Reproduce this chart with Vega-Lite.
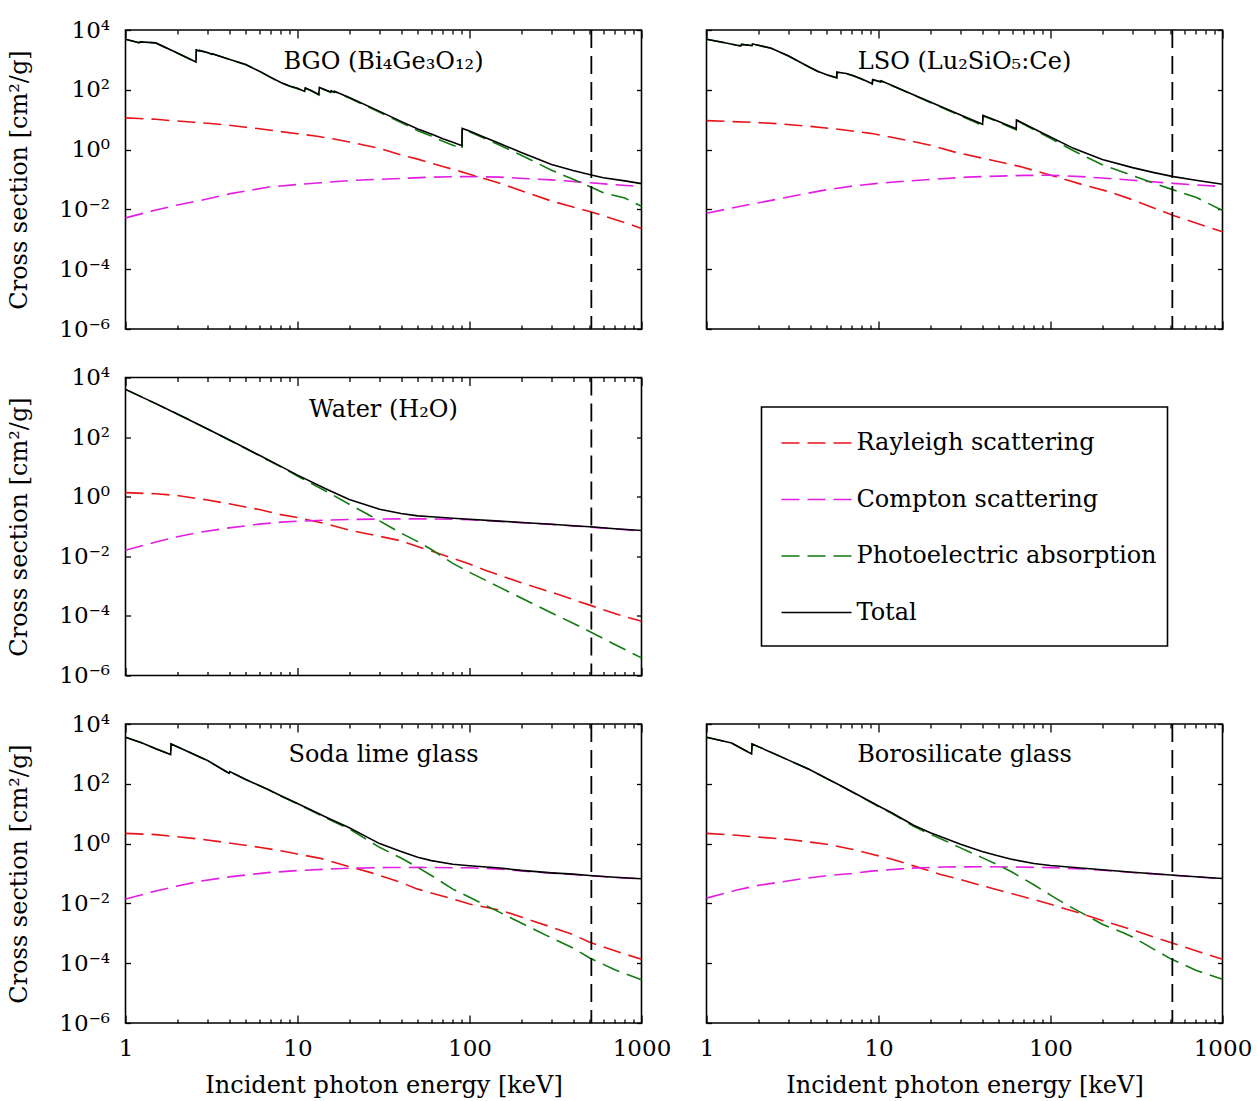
{
"$schema": "https://vega.github.io/schema/vega-lite/v6.json",
"padding": {"left": 6.5, "top": 18, "right": 5, "bottom": 5},
"config": {
  "font": "DejaVu Serif",
  "view": {"stroke": "black", "strokeWidth": 1.6},
  "axis": {"domain": false, "grid": false, "tickColor": "black", "tickWidth": 1.3, "labelColor": "black", "titleColor": "black", "labelFont": "DejaVu Serif", "titleFont": "DejaVu Serif", "titleFontWeight": "normal", "labelFlush": false, "labelOverlap": false, "labelBound": false},
  "title": {"font": "DejaVu Serif", "fontSize": 24, "fontWeight": "normal", "color": "black", "anchor": "middle", "frame": "group", "baseline": "alphabetic"}
},
"datasets": {
  "annihilation": [{"e": 511}],
  "legend": [{"process": "Rayleigh scattering"}, {"process": "Compton scattering"}, {"process": "Photoelectric absorption"}, {"process": "Total"}],
  "bgo_total": [{"e":1,"v":4900},{"e":1.2,"v":3750},{"e":1.22,"v":4000},{"e":1.5,"v":3700},{"e":2,"v":1700},{"e":2.5,"v":920},{"e":2.57,"v":850},{"e":2.58,"v":2150},{"e":2.68,"v":2000},{"e":2.69,"v":2080},{"e":3,"v":1750},{"e":3.18,"v":1550},{"e":3.19,"v":1620},{"e":4,"v":1050},{"e":5,"v":700},{"e":6,"v":420},{"e":7,"v":260},{"e":8,"v":175},{"e":9,"v":135},{"e":10,"v":112},{"e":11,"v":88},{"e":11.1,"v":115},{"e":12,"v":95},{"e":13.3,"v":70},{"e":13.4,"v":120},{"e":15.6,"v":84},{"e":15.7,"v":93},{"e":16.3,"v":84},{"e":16.4,"v":89},{"e":20,"v":55},{"e":30,"v":19},{"e":40,"v":8.8},{"e":50,"v":4.9},{"e":60,"v":3.3},{"e":70,"v":2.3},{"e":80,"v":1.75},{"e":90.4,"v":1.35},{"e":90.6,"v":5.1},{"e":100,"v":4.2},{"e":120,"v":2.7},{"e":150,"v":1.6},{"e":200,"v":0.8},{"e":300,"v":0.32},{"e":400,"v":0.2},{"e":511,"v":0.141},{"e":600,"v":0.115},{"e":800,"v":0.09},{"e":1000,"v":0.073}],
  "bgo_rayleigh": [{"e":1,"v":11.5},{"e":1.2,"v":11},{"e":1.5,"v":10.3},{"e":2,"v":9},{"e":2.5,"v":8.2},{"e":3,"v":7.6},{"e":4,"v":6.5},{"e":5,"v":5.6},{"e":6,"v":5.0},{"e":8,"v":4.0},{"e":10,"v":3.4},{"e":13,"v":2.8},{"e":16,"v":2.3},{"e":20,"v":1.8},{"e":30,"v":1.1},{"e":40,"v":0.66},{"e":50,"v":0.48},{"e":60,"v":0.35},{"e":70,"v":0.27},{"e":80,"v":0.22},{"e":90,"v":0.18},{"e":100,"v":0.15},{"e":120,"v":0.11},{"e":150,"v":0.075},{"e":200,"v":0.042},{"e":300,"v":0.019},{"e":400,"v":0.012},{"e":511,"v":0.0082},{"e":600,"v":0.0061},{"e":800,"v":0.0036},{"e":1000,"v":0.0023}],
  "bgo_compton": [{"e":1,"v":0.0052},{"e":1.5,"v":0.0095},{"e":2,"v":0.014},{"e":2.74,"v":0.02},{"e":4,"v":0.033},{"e":6.7,"v":0.055},{"e":10,"v":0.068},{"e":13.6,"v":0.078},{"e":20,"v":0.092},{"e":41.5,"v":0.11},{"e":60,"v":0.12},{"e":93,"v":0.126},{"e":150,"v":0.12},{"e":195,"v":0.11},{"e":300,"v":0.097},{"e":505,"v":0.078},{"e":700,"v":0.067},{"e":1000,"v":0.058}],
  "bgo_photo": [{"e":1,"v":4890},{"e":1.2,"v":3739},{"e":1.22,"v":3989},{"e":1.5,"v":3690},{"e":2,"v":1691},{"e":2.5,"v":912},{"e":2.57,"v":842},{"e":2.58,"v":2142},{"e":2.68,"v":1992},{"e":2.69,"v":2072},{"e":3,"v":1742},{"e":3.18,"v":1542},{"e":3.19,"v":1612},{"e":4,"v":1043},{"e":5,"v":694},{"e":6,"v":415},{"e":7,"v":255.5},{"e":8,"v":171},{"e":9,"v":131.2},{"e":10,"v":108.5},{"e":11,"v":84.8},{"e":11.1,"v":111.8},{"e":12,"v":92},{"e":13.3,"v":67.1},{"e":13.4,"v":117.1},{"e":15.6,"v":81.6},{"e":15.7,"v":90.6},{"e":16.3,"v":81.6},{"e":16.4,"v":86.6},{"e":20,"v":53.1},{"e":30,"v":17.8},{"e":40,"v":8.0},{"e":50,"v":4.3},{"e":60,"v":2.83},{"e":70,"v":1.91},{"e":80,"v":1.41},{"e":90.4,"v":1.04},{"e":90.6,"v":4.8},{"e":100,"v":3.92},{"e":120,"v":2.47},{"e":150,"v":1.4},{"e":200,"v":0.65},{"e":300,"v":0.204},{"e":400,"v":0.102},{"e":511,"v":0.055},{"e":600,"v":0.036},{"e":800,"v":0.024},{"e":1000,"v":0.0127}],
  "lso_total": [{"e":1,"v":4900},{"e":1.3,"v":3700},{"e":1.5,"v":3100},{"e":1.58,"v":2950},{"e":1.6,"v":3300},{"e":1.84,"v":3000},{"e":1.85,"v":3400},{"e":2,"v":3100},{"e":2.38,"v":2450},{"e":3,"v":1350},{"e":4,"v":560},{"e":4.42,"v":420},{"e":5,"v":320},{"e":5.72,"v":255},{"e":5.73,"v":390},{"e":6.5,"v":350},{"e":7.1,"v":300},{"e":8,"v":230},{"e":9.2,"v":160},{"e":9.25,"v":220},{"e":10.3,"v":185},{"e":10.35,"v":200},{"e":12,"v":139},{"e":15,"v":80},{"e":20,"v":39},{"e":30,"v":14.3},{"e":40.3,"v":7.0},{"e":40.5,"v":14.0},{"e":50,"v":8.7},{"e":63.2,"v":5.0},{"e":63.4,"v":9.8},{"e":80,"v":5.0},{"e":100,"v":2.65},{"e":136,"v":1.1},{"e":200,"v":0.47},{"e":300,"v":0.25},{"e":400,"v":0.17},{"e":518,"v":0.125},{"e":700,"v":0.095},{"e":1000,"v":0.069}],
  "lso_rayleigh": [{"e":1,"v":9.3},{"e":2,"v":8.0},{"e":2.74,"v":7.2},{"e":4,"v":6.0},{"e":6,"v":4.7},{"e":9,"v":3.5},{"e":15,"v":2.0},{"e":20,"v":1.4},{"e":28.3,"v":0.8},{"e":45,"v":0.45},{"e":66.7,"v":0.27},{"e":107.6,"v":0.124},{"e":150,"v":0.07},{"e":219,"v":0.039},{"e":300,"v":0.021},{"e":518,"v":0.0063},{"e":700,"v":0.0035},{"e":1000,"v":0.0018}],
  "lso_compton": [{"e":1,"v":0.0074},{"e":1.5,"v":0.012},{"e":2.38,"v":0.02},{"e":3.5,"v":0.031},{"e":4.85,"v":0.044},{"e":7,"v":0.06},{"e":9.9,"v":0.074},{"e":15,"v":0.09},{"e":20,"v":0.1},{"e":32.8,"v":0.12},{"e":50,"v":0.13},{"e":70,"v":0.137},{"e":100,"v":0.139},{"e":150,"v":0.125},{"e":200,"v":0.112},{"e":300,"v":0.094},{"e":518,"v":0.074},{"e":700,"v":0.066},{"e":1000,"v":0.058}],
  "lso_photo": [{"e":1,"v":4890},{"e":1.3,"v":3690},{"e":1.5,"v":3090},{"e":1.58,"v":2940},{"e":1.6,"v":3290},{"e":1.84,"v":2991},{"e":1.85,"v":3391},{"e":2,"v":3092},{"e":2.38,"v":2443},{"e":3,"v":1344},{"e":4,"v":554},{"e":4.42,"v":414.5},{"e":5,"v":315},{"e":5.72,"v":251},{"e":5.73,"v":386},{"e":6.5,"v":345.7},{"e":7.1,"v":296},{"e":8,"v":226},{"e":9.2,"v":156.4},{"e":9.25,"v":216.4},{"e":10.3,"v":182},{"e":10.35,"v":197},{"e":12,"v":136.5},{"e":15,"v":77.9},{"e":20,"v":37.5},{"e":30,"v":13.4},{"e":40.3,"v":6.4},{"e":40.5,"v":13.4},{"e":50,"v":8.3},{"e":63.2,"v":4.6},{"e":63.4,"v":9.4},{"e":80,"v":4.7},{"e":100,"v":2.37},{"e":136,"v":0.91},{"e":200,"v":0.31},{"e":300,"v":0.135},{"e":400,"v":0.075},{"e":518,"v":0.045},{"e":700,"v":0.0255},{"e":1000,"v":0.0092}],
  "water_total": [{"e":1,"v":4000},{"e":1.5,"v":1330},{"e":2,"v":600},{"e":3,"v":188},{"e":4,"v":81},{"e":5,"v":42},{"e":6,"v":24.5},{"e":8,"v":10.4},{"e":10,"v":5.3},{"e":15,"v":1.7},{"e":20,"v":0.81},{"e":30,"v":0.38},{"e":40,"v":0.273},{"e":50,"v":0.228},{"e":60,"v":0.212},{"e":80,"v":0.19},{"e":100,"v":0.176},{"e":150,"v":0.151},{"e":200,"v":0.137},{"e":300,"v":0.119},{"e":400,"v":0.106},{"e":500,"v":0.098},{"e":700,"v":0.084},{"e":1000,"v":0.073}],
  "water_rayleigh": [{"e":1,"v":1.37},{"e":1.5,"v":1.25},{"e":2,"v":1.1},{"e":3,"v":0.77},{"e":4,"v":0.58},{"e":5,"v":0.45},{"e":6,"v":0.37},{"e":8,"v":0.25},{"e":10,"v":0.2},{"e":15,"v":0.12},{"e":20,"v":0.075},{"e":30,"v":0.047},{"e":40,"v":0.033},{"e":60,"v":0.015},{"e":80,"v":0.0085},{"e":100,"v":0.0055},{"e":127,"v":0.0032},{"e":200,"v":0.0013},{"e":300,"v":0.00062},{"e":500,"v":0.00023},{"e":700,"v":0.00012},{"e":1000,"v":0.000066}],
  "water_compton": [{"e":1,"v":0.016},{"e":1.5,"v":0.03},{"e":2,"v":0.045},{"e":2.74,"v":0.065},{"e":4,"v":0.09},{"e":5,"v":0.105},{"e":6,"v":0.12},{"e":8,"v":0.14},{"e":10,"v":0.15},{"e":15,"v":0.165},{"e":20,"v":0.172},{"e":30,"v":0.178},{"e":40,"v":0.18},{"e":60,"v":0.18},{"e":89,"v":0.174},{"e":100,"v":0.168},{"e":150,"v":0.148},{"e":200,"v":0.135},{"e":300,"v":0.118},{"e":400,"v":0.105},{"e":500,"v":0.096},{"e":700,"v":0.083},{"e":1000,"v":0.071}],
  "water_photo": [{"e":1,"v":3998},{"e":1.5,"v":1328},{"e":2,"v":599},{"e":3,"v":187},{"e":4,"v":80.3},{"e":5,"v":41.4},{"e":6,"v":24},{"e":8,"v":10},{"e":10,"v":4.95},{"e":15,"v":1.42},{"e":20,"v":0.56},{"e":26.5,"v":0.23},{"e":30,"v":0.155},{"e":40,"v":0.06},{"e":50,"v":0.031},{"e":60,"v":0.017},{"e":80,"v":0.0058},{"e":100,"v":0.0029},{"e":145,"v":0.001},{"e":200,"v":0.0004},{"e":309,"v":0.000115},{"e":400,"v":0.000057},{"e":505,"v":0.000029},{"e":700,"v":0.000011},{"e":1000,"v":0.0000039}],
  "soda_total": [{"e":1,"v":3600},{"e":1.25,"v":2300},{"e":1.5,"v":1500},{"e":1.83,"v":950},{"e":1.84,"v":2150},{"e":2,"v":1730},{"e":2.74,"v":760},{"e":3,"v":600},{"e":4,"v":225},{"e":4.04,"v":255},{"e":5,"v":140},{"e":6.7,"v":66},{"e":8,"v":40},{"e":10,"v":22},{"e":15,"v":7.2},{"e":20,"v":3.4},{"e":30,"v":1.0},{"e":40,"v":0.54},{"e":50,"v":0.35},{"e":60,"v":0.27},{"e":80,"v":0.205},{"e":100,"v":0.182},{"e":150,"v":0.152},{"e":200,"v":0.127},{"e":300,"v":0.105},{"e":400,"v":0.095},{"e":500,"v":0.086},{"e":700,"v":0.075},{"e":1000,"v":0.067}],
  "soda_rayleigh": [{"e":1,"v":2.2},{"e":1.5,"v":2.0},{"e":2,"v":1.7},{"e":2.75,"v":1.4},{"e":4,"v":1.05},{"e":6.1,"v":0.74},{"e":8,"v":0.58},{"e":10,"v":0.45},{"e":13.6,"v":0.32},{"e":20,"v":0.17},{"e":26.7,"v":0.107},{"e":40,"v":0.05},{"e":50,"v":0.03},{"e":80,"v":0.014},{"e":100,"v":0.0095},{"e":150,"v":0.006},{"e":200,"v":0.0035},{"e":300,"v":0.0016},{"e":400,"v":0.0009},{"e":500,"v":0.0005},{"e":700,"v":0.00026},{"e":1000,"v":0.000135}],
  "soda_compton": [{"e":1,"v":0.014},{"e":1.5,"v":0.026},{"e":2,"v":0.038},{"e":2.75,"v":0.056},{"e":4,"v":0.077},{"e":6.7,"v":0.107},{"e":10,"v":0.125},{"e":15,"v":0.14},{"e":20,"v":0.15},{"e":33,"v":0.158},{"e":50,"v":0.16},{"e":100,"v":0.155},{"e":150,"v":0.14},{"e":200,"v":0.122},{"e":250,"v":0.11},{"e":300,"v":0.103},{"e":400,"v":0.093},{"e":500,"v":0.084},{"e":700,"v":0.074},{"e":1000,"v":0.066}],
  "soda_photo": [{"e":1,"v":3598},{"e":1.25,"v":2298},{"e":1.5,"v":1498},{"e":1.83,"v":948},{"e":1.84,"v":2148},{"e":2,"v":1728},{"e":2.74,"v":758},{"e":3,"v":598},{"e":4,"v":224},{"e":4.04,"v":254},{"e":5,"v":139},{"e":6.7,"v":65},{"e":8,"v":39.3},{"e":10,"v":21.4},{"e":15,"v":6.8},{"e":20,"v":3.1},{"e":30,"v":0.75},{"e":40,"v":0.33},{"e":50,"v":0.16},{"e":60,"v":0.086},{"e":80,"v":0.03},{"e":100,"v":0.016},{"e":150,"v":0.005},{"e":200,"v":0.0022},{"e":300,"v":0.0007},{"e":400,"v":0.00032},{"e":500,"v":0.00015},{"e":700,"v":0.00006},{"e":1000,"v":0.000028}],
  "boro_total": [{"e":1,"v":3600},{"e":1.4,"v":2300},{"e":1.83,"v":1000},{"e":1.84,"v":2150},{"e":2,"v":1750},{"e":3,"v":620},{"e":3.97,"v":300},{"e":5,"v":150},{"e":6,"v":88},{"e":8,"v":36},{"e":10,"v":18},{"e":12,"v":10.5},{"e":16,"v":4.1},{"e":20,"v":2.3},{"e":23.7,"v":1.6},{"e":30,"v":0.95},{"e":40,"v":0.545},{"e":50,"v":0.387},{"e":60,"v":0.296},{"e":80,"v":0.215},{"e":100,"v":0.185},{"e":150,"v":0.152},{"e":200,"v":0.133},{"e":265,"v":0.117},{"e":300,"v":0.11},{"e":400,"v":0.098},{"e":500,"v":0.089},{"e":700,"v":0.078},{"e":1000,"v":0.068}],
  "boro_rayleigh": [{"e":1,"v":2.2},{"e":1.5,"v":1.9},{"e":2,"v":1.65},{"e":3.12,"v":1.35},{"e":5,"v":0.95},{"e":7,"v":0.65},{"e":9.05,"v":0.45},{"e":12,"v":0.3},{"e":16,"v":0.18},{"e":22.7,"v":0.095},{"e":30,"v":0.063},{"e":40,"v":0.039},{"e":60,"v":0.021},{"e":80,"v":0.0135},{"e":100,"v":0.0093},{"e":150,"v":0.0046},{"e":200,"v":0.0027},{"e":300,"v":0.0013},{"e":500,"v":0.00049},{"e":700,"v":0.00026},{"e":1000,"v":0.000135}],
  "boro_compton": [{"e":1,"v":0.015},{"e":1.5,"v":0.028},{"e":2,"v":0.04},{"e":3.44,"v":0.064},{"e":5,"v":0.085},{"e":7,"v":0.1},{"e":9.05,"v":0.12},{"e":15,"v":0.15},{"e":23.7,"v":0.165},{"e":40,"v":0.168},{"e":60,"v":0.165},{"e":100,"v":0.157},{"e":150,"v":0.142},{"e":200,"v":0.128},{"e":265,"v":0.114},{"e":300,"v":0.108},{"e":400,"v":0.097},{"e":500,"v":0.088},{"e":700,"v":0.077},{"e":1000,"v":0.067}],
  "boro_photo": [{"e":1,"v":3598},{"e":1.4,"v":2298},{"e":1.83,"v":998},{"e":1.84,"v":2148},{"e":2,"v":1748},{"e":3,"v":619},{"e":3.97,"v":299},{"e":5,"v":149},{"e":6,"v":87},{"e":8,"v":35.5},{"e":10,"v":17.5},{"e":12,"v":10.1},{"e":16,"v":3.8},{"e":20,"v":2.05},{"e":23.7,"v":1.35},{"e":30,"v":0.72},{"e":40,"v":0.34},{"e":50,"v":0.19},{"e":60,"v":0.11},{"e":80,"v":0.042},{"e":100,"v":0.019},{"e":126,"v":0.0085},{"e":150,"v":0.005},{"e":200,"v":0.002},{"e":265,"v":0.00105},{"e":300,"v":0.00075},{"e":400,"v":0.00029},{"e":500,"v":0.00014},{"e":700,"v":0.000058},{"e":1000,"v":0.000029}]
},
"spacing": 23.5,
"resolve": {"scale": {"color": "independent", "strokeDash": "independent"}, "legend": {"color": "independent", "strokeDash": "independent"}},
"vconcat": [
{
"hconcat": [
{
  "width": 516, "height": 299,
  "title": {"text": "BGO (Bi₄Ge₃O₁₂)", "offset": -55},
  "resolve": {"axis": {"x": "independent", "y": "independent"}},
  "layer": [
    {"data": {"name": "bgo_rayleigh"}, "mark": {"type": "line", "color": "#e8141a", "strokeDash": [18, 8], "strokeWidth": 1.6},
     "encoding": {"x": {"field": "e", "type": "quantitative", "scale": {"type": "log", "domain": [1, 1000], "nice": false}, "axis": {"orient": "bottom", "values": [1, 10, 100, 1000], "tickSize": -8, "labels": false, "title": null}},
                  "y": {"field": "v", "type": "quantitative", "scale": {"type": "log", "domain": [0.000001, 10000], "nice": false}, "axis": {"orient": "left", "values": [0.000001, 0.0001, 0.01, 1, 100, 10000], "tickSize": -5, "labelPadding": 21, "labelFontSize": 23, "labelExpr": "datum.value > 5000 ? '10⁴' : datum.value > 50 ? '10²' : datum.value > 0.5 ? '10⁰' : datum.value > 0.005 ? '10⁻²' : datum.value > 0.00005 ? '10⁻⁴' : '10⁻⁶'", "title": "Cross section [cm²/g]", "titleFontSize": 24, "titlePadding": 27}}}},
    {"data": {"name": "bgo_compton"}, "mark": {"type": "line", "color": "#e31ee3", "strokeDash": [18, 8], "strokeWidth": 1.6},
     "encoding": {"x": {"field": "e", "type": "quantitative", "scale": {"type": "log", "domain": [1, 1000], "nice": false}, "axis": {"orient": "bottom", "values": [2,3,4,5,6,7,8,9,20,30,40,50,60,70,80,90,200,300,400,500,600,700,800,900], "tickSize": -4, "labels": false, "title": null}},
                  "y": {"field": "v", "type": "quantitative", "scale": {"type": "log", "domain": [0.000001, 10000], "nice": false}, "axis": {"orient": "right", "values": [0.000001, 0.0001, 0.01, 1, 100, 10000], "tickSize": -5, "labels": false, "title": null}}}},
    {"data": {"name": "bgo_photo"}, "mark": {"type": "line", "color": "#117a11", "strokeDash": [18, 8], "strokeWidth": 1.6},
     "encoding": {"x": {"field": "e", "type": "quantitative", "scale": {"type": "log", "domain": [1, 1000], "nice": false}, "axis": {"orient": "top", "values": [1, 10, 100, 1000], "tickSize": -8, "labels": false, "title": null}},
                  "y": {"field": "v", "type": "quantitative", "scale": {"type": "log", "domain": [0.000001, 10000], "nice": false}, "axis": null}}},
    {"data": {"name": "bgo_total"}, "mark": {"type": "line", "color": "black", "strokeWidth": 1.6},
     "encoding": {"x": {"field": "e", "type": "quantitative", "scale": {"type": "log", "domain": [1, 1000], "nice": false}, "axis": {"orient": "top", "values": [2,3,4,5,6,7,8,9,20,30,40,50,60,70,80,90,200,300,400,500,600,700,800,900], "tickSize": -4, "labels": false, "title": null}},
                  "y": {"field": "v", "type": "quantitative", "scale": {"type": "log", "domain": [0.000001, 10000], "nice": false}, "axis": null}}},
    {"data": {"name": "annihilation"}, "mark": {"type": "rule", "color": "black", "strokeDash": [18, 8], "strokeWidth": 1.8},
     "encoding": {"x": {"field": "e", "type": "quantitative", "scale": {"type": "log", "domain": [1, 1000], "nice": false}, "axis": null}}}
  ]
},
{
  "width": 516, "height": 299,
  "title": {"text": "LSO (Lu₂SiO₅:Ce)", "offset": -45},
  "resolve": {"axis": {"x": "independent", "y": "independent"}},
  "layer": [
    {"data": {"name": "lso_rayleigh"}, "mark": {"type": "line", "color": "#e8141a", "strokeDash": [18, 8], "strokeWidth": 1.6},
     "encoding": {"x": {"field": "e", "type": "quantitative", "scale": {"type": "log", "domain": [1, 1000], "nice": false}, "axis": {"orient": "bottom", "values": [1, 10, 100, 1000], "tickSize": -8, "labels": false, "title": null}},
                  "y": {"field": "v", "type": "quantitative", "scale": {"type": "log", "domain": [0.000001, 10000], "nice": false}, "axis": {"orient": "left", "values": [0.000001, 0.0001, 0.01, 1, 100, 10000], "tickSize": -5, "labels": false, "title": null}}}},
    {"data": {"name": "lso_compton"}, "mark": {"type": "line", "color": "#e31ee3", "strokeDash": [18, 8], "strokeWidth": 1.6},
     "encoding": {"x": {"field": "e", "type": "quantitative", "scale": {"type": "log", "domain": [1, 1000], "nice": false}, "axis": {"orient": "bottom", "values": [2,3,4,5,6,7,8,9,20,30,40,50,60,70,80,90,200,300,400,500,600,700,800,900], "tickSize": -4, "labels": false, "title": null}},
                  "y": {"field": "v", "type": "quantitative", "scale": {"type": "log", "domain": [0.000001, 10000], "nice": false}, "axis": {"orient": "right", "values": [0.000001, 0.0001, 0.01, 1, 100, 10000], "tickSize": -5, "labels": false, "title": null}}}},
    {"data": {"name": "lso_photo"}, "mark": {"type": "line", "color": "#117a11", "strokeDash": [18, 8], "strokeWidth": 1.6},
     "encoding": {"x": {"field": "e", "type": "quantitative", "scale": {"type": "log", "domain": [1, 1000], "nice": false}, "axis": {"orient": "top", "values": [1, 10, 100, 1000], "tickSize": -8, "labels": false, "title": null}},
                  "y": {"field": "v", "type": "quantitative", "scale": {"type": "log", "domain": [0.000001, 10000], "nice": false}, "axis": null}}},
    {"data": {"name": "lso_total"}, "mark": {"type": "line", "color": "black", "strokeWidth": 1.6},
     "encoding": {"x": {"field": "e", "type": "quantitative", "scale": {"type": "log", "domain": [1, 1000], "nice": false}, "axis": {"orient": "top", "values": [2,3,4,5,6,7,8,9,20,30,40,50,60,70,80,90,200,300,400,500,600,700,800,900], "tickSize": -4, "labels": false, "title": null}},
                  "y": {"field": "v", "type": "quantitative", "scale": {"type": "log", "domain": [0.000001, 10000], "nice": false}, "axis": null}}},
    {"data": {"name": "annihilation"}, "mark": {"type": "rule", "color": "black", "strokeDash": [18, 8], "strokeWidth": 1.8},
     "encoding": {"x": {"field": "e", "type": "quantitative", "scale": {"type": "log", "domain": [1, 1000], "nice": false}, "axis": null}}}
  ]
}
],
"spacing": 65,
"bounds": "flush"
},
{
"hconcat": [
{
  "width": 516, "height": 298,
  "title": {"text": "Water (H₂O)", "offset": -55},
  "resolve": {"axis": {"x": "independent", "y": "independent"}},
  "layer": [
    {"data": {"name": "water_rayleigh"}, "mark": {"type": "line", "color": "#e8141a", "strokeDash": [18, 8], "strokeWidth": 1.6},
     "encoding": {"x": {"field": "e", "type": "quantitative", "scale": {"type": "log", "domain": [1, 1000], "nice": false}, "axis": {"orient": "bottom", "values": [1, 10, 100, 1000], "tickSize": -8, "labels": false, "title": null}},
                  "y": {"field": "v", "type": "quantitative", "scale": {"type": "log", "domain": [0.000001, 10000], "nice": false}, "axis": {"orient": "left", "values": [0.000001, 0.0001, 0.01, 1, 100, 10000], "tickSize": -5, "labelPadding": 21, "labelFontSize": 23, "labelExpr": "datum.value > 5000 ? '10⁴' : datum.value > 50 ? '10²' : datum.value > 0.5 ? '10⁰' : datum.value > 0.005 ? '10⁻²' : datum.value > 0.00005 ? '10⁻⁴' : '10⁻⁶'", "title": "Cross section [cm²/g]", "titleFontSize": 24, "titlePadding": 27}}}},
    {"data": {"name": "water_compton"}, "mark": {"type": "line", "color": "#e31ee3", "strokeDash": [18, 8], "strokeWidth": 1.6},
     "encoding": {"x": {"field": "e", "type": "quantitative", "scale": {"type": "log", "domain": [1, 1000], "nice": false}, "axis": {"orient": "bottom", "values": [2,3,4,5,6,7,8,9,20,30,40,50,60,70,80,90,200,300,400,500,600,700,800,900], "tickSize": -4, "labels": false, "title": null}},
                  "y": {"field": "v", "type": "quantitative", "scale": {"type": "log", "domain": [0.000001, 10000], "nice": false}, "axis": {"orient": "right", "values": [0.000001, 0.0001, 0.01, 1, 100, 10000], "tickSize": -5, "labels": false, "title": null}}}},
    {"data": {"name": "water_photo"}, "mark": {"type": "line", "color": "#117a11", "strokeDash": [18, 8], "strokeWidth": 1.6},
     "encoding": {"x": {"field": "e", "type": "quantitative", "scale": {"type": "log", "domain": [1, 1000], "nice": false}, "axis": {"orient": "top", "values": [1, 10, 100, 1000], "tickSize": -8, "labels": false, "title": null}},
                  "y": {"field": "v", "type": "quantitative", "scale": {"type": "log", "domain": [0.000001, 10000], "nice": false}, "axis": null}}},
    {"data": {"name": "water_total"}, "mark": {"type": "line", "color": "black", "strokeWidth": 1.6},
     "encoding": {"x": {"field": "e", "type": "quantitative", "scale": {"type": "log", "domain": [1, 1000], "nice": false}, "axis": {"orient": "top", "values": [2,3,4,5,6,7,8,9,20,30,40,50,60,70,80,90,200,300,400,500,600,700,800,900], "tickSize": -4, "labels": false, "title": null}},
                  "y": {"field": "v", "type": "quantitative", "scale": {"type": "log", "domain": [0.000001, 10000], "nice": false}, "axis": null}}},
    {"data": {"name": "annihilation"}, "mark": {"type": "rule", "color": "black", "strokeDash": [18, 8], "strokeWidth": 1.8},
     "encoding": {"x": {"field": "e", "type": "quantitative", "scale": {"type": "log", "domain": [1, 1000], "nice": false}, "axis": null}}}
  ]
},
{
  "width": 406, "height": 239,
  "data": {"name": "legend"},
  "mark": {"type": "line", "strokeWidth": 1.6},
  "encoding": {
    "x": {"field": "process", "type": "nominal", "axis": null},
    "y": {"field": "process", "type": "nominal", "axis": null},
    "color": {"field": "process", "type": "nominal",
      "scale": {"domain": ["Rayleigh scattering", "Compton scattering", "Photoelectric absorption", "Total"], "range": ["#e8141a", "#e31ee3", "#117a11", "black"]},
      "legend": {"orient": "none", "legendX": 43, "legendY": 24, "title": null, "symbolType": "M-3.5,0H3.5", "symbolSize": 400, "symbolStrokeWidth": 1.6, "labelFont": "DejaVu Serif", "labelFontSize": 24, "labelColor": "black", "labelOffset": 28, "labelLimit": 500, "rowPadding": 32.5, "padding": 0}},
    "strokeDash": {"field": "process", "type": "nominal",
      "scale": {"domain": ["Rayleigh scattering", "Compton scattering", "Photoelectric absorption", "Total"], "range": [[18, 8], [18, 8], [18, 8], [1, 0]]},
      "legend": {"orient": "none", "legendX": 43, "legendY": 24, "title": null, "symbolType": "M-3.5,0H3.5", "symbolSize": 400, "symbolStrokeWidth": 1.6, "labelFont": "DejaVu Serif", "labelFontSize": 24, "labelColor": "black", "labelOffset": 28, "labelLimit": 500, "rowPadding": 32.5, "padding": 0}}
  }
}
],
"spacing": 120,
"bounds": "flush",
"center": true,
"resolve": {"scale": {"color": "independent", "strokeDash": "independent"}, "legend": {"color": "independent", "strokeDash": "independent"}}
},
{
"hconcat": [
{
  "width": 516, "height": 299,
  "title": {"text": "Soda lime glass", "offset": -54},
  "resolve": {"axis": {"x": "independent", "y": "independent"}},
  "layer": [
    {"data": {"name": "soda_rayleigh"}, "mark": {"type": "line", "color": "#e8141a", "strokeDash": [18, 8], "strokeWidth": 1.6},
     "encoding": {"x": {"field": "e", "type": "quantitative", "scale": {"type": "log", "domain": [1, 1000], "nice": false}, "axis": {"orient": "bottom", "values": [1, 10, 100, 1000], "tickSize": -8, "labelPadding": 22, "labelBaseline": "top", "labelFontSize": 23, "labelExpr": "datum.value > 500 ? '1000' : datum.value > 50 ? '100' : datum.value > 5 ? '10' : '1'", "title": "Incident photon energy [keV]", "titleFontSize": 24, "titlePadding": 13}},
                  "y": {"field": "v", "type": "quantitative", "scale": {"type": "log", "domain": [0.000001, 10000], "nice": false}, "axis": {"orient": "left", "values": [0.000001, 0.0001, 0.01, 1, 100, 10000], "tickSize": -5, "labelPadding": 21, "labelFontSize": 23, "labelExpr": "datum.value > 5000 ? '10⁴' : datum.value > 50 ? '10²' : datum.value > 0.5 ? '10⁰' : datum.value > 0.005 ? '10⁻²' : datum.value > 0.00005 ? '10⁻⁴' : '10⁻⁶'", "title": "Cross section [cm²/g]", "titleFontSize": 24, "titlePadding": 27}}}},
    {"data": {"name": "soda_compton"}, "mark": {"type": "line", "color": "#e31ee3", "strokeDash": [18, 8], "strokeWidth": 1.6},
     "encoding": {"x": {"field": "e", "type": "quantitative", "scale": {"type": "log", "domain": [1, 1000], "nice": false}, "axis": {"orient": "bottom", "values": [2,3,4,5,6,7,8,9,20,30,40,50,60,70,80,90,200,300,400,500,600,700,800,900], "tickSize": -4, "labels": false, "title": null}},
                  "y": {"field": "v", "type": "quantitative", "scale": {"type": "log", "domain": [0.000001, 10000], "nice": false}, "axis": {"orient": "right", "values": [0.000001, 0.0001, 0.01, 1, 100, 10000], "tickSize": -5, "labels": false, "title": null}}}},
    {"data": {"name": "soda_photo"}, "mark": {"type": "line", "color": "#117a11", "strokeDash": [18, 8], "strokeWidth": 1.6},
     "encoding": {"x": {"field": "e", "type": "quantitative", "scale": {"type": "log", "domain": [1, 1000], "nice": false}, "axis": {"orient": "top", "values": [1, 10, 100, 1000], "tickSize": -8, "labels": false, "title": null}},
                  "y": {"field": "v", "type": "quantitative", "scale": {"type": "log", "domain": [0.000001, 10000], "nice": false}, "axis": null}}},
    {"data": {"name": "soda_total"}, "mark": {"type": "line", "color": "black", "strokeWidth": 1.6},
     "encoding": {"x": {"field": "e", "type": "quantitative", "scale": {"type": "log", "domain": [1, 1000], "nice": false}, "axis": {"orient": "top", "values": [2,3,4,5,6,7,8,9,20,30,40,50,60,70,80,90,200,300,400,500,600,700,800,900], "tickSize": -4, "labels": false, "title": null}},
                  "y": {"field": "v", "type": "quantitative", "scale": {"type": "log", "domain": [0.000001, 10000], "nice": false}, "axis": null}}},
    {"data": {"name": "annihilation"}, "mark": {"type": "rule", "color": "black", "strokeDash": [18, 8], "strokeWidth": 1.8},
     "encoding": {"x": {"field": "e", "type": "quantitative", "scale": {"type": "log", "domain": [1, 1000], "nice": false}, "axis": null}}}
  ]
},
{
  "width": 516, "height": 299,
  "title": {"text": "Borosilicate glass", "offset": -44},
  "resolve": {"axis": {"x": "independent", "y": "independent"}},
  "layer": [
    {"data": {"name": "boro_rayleigh"}, "mark": {"type": "line", "color": "#e8141a", "strokeDash": [18, 8], "strokeWidth": 1.6},
     "encoding": {"x": {"field": "e", "type": "quantitative", "scale": {"type": "log", "domain": [1, 1000], "nice": false}, "axis": {"orient": "bottom", "values": [1, 10, 100, 1000], "tickSize": -8, "labelPadding": 22, "labelBaseline": "top", "labelFontSize": 23, "labelExpr": "datum.value > 500 ? '1000' : datum.value > 50 ? '100' : datum.value > 5 ? '10' : '1'", "title": "Incident photon energy [keV]", "titleFontSize": 24, "titlePadding": 13}},
                  "y": {"field": "v", "type": "quantitative", "scale": {"type": "log", "domain": [0.000001, 10000], "nice": false}, "axis": {"orient": "left", "values": [0.000001, 0.0001, 0.01, 1, 100, 10000], "tickSize": -5, "labels": false, "title": null}}}},
    {"data": {"name": "boro_compton"}, "mark": {"type": "line", "color": "#e31ee3", "strokeDash": [18, 8], "strokeWidth": 1.6},
     "encoding": {"x": {"field": "e", "type": "quantitative", "scale": {"type": "log", "domain": [1, 1000], "nice": false}, "axis": {"orient": "bottom", "values": [2,3,4,5,6,7,8,9,20,30,40,50,60,70,80,90,200,300,400,500,600,700,800,900], "tickSize": -4, "labels": false, "title": null}},
                  "y": {"field": "v", "type": "quantitative", "scale": {"type": "log", "domain": [0.000001, 10000], "nice": false}, "axis": {"orient": "right", "values": [0.000001, 0.0001, 0.01, 1, 100, 10000], "tickSize": -5, "labels": false, "title": null}}}},
    {"data": {"name": "boro_photo"}, "mark": {"type": "line", "color": "#117a11", "strokeDash": [18, 8], "strokeWidth": 1.6},
     "encoding": {"x": {"field": "e", "type": "quantitative", "scale": {"type": "log", "domain": [1, 1000], "nice": false}, "axis": {"orient": "top", "values": [1, 10, 100, 1000], "tickSize": -8, "labels": false, "title": null}},
                  "y": {"field": "v", "type": "quantitative", "scale": {"type": "log", "domain": [0.000001, 10000], "nice": false}, "axis": null}}},
    {"data": {"name": "boro_total"}, "mark": {"type": "line", "color": "black", "strokeWidth": 1.6},
     "encoding": {"x": {"field": "e", "type": "quantitative", "scale": {"type": "log", "domain": [1, 1000], "nice": false}, "axis": {"orient": "top", "values": [2,3,4,5,6,7,8,9,20,30,40,50,60,70,80,90,200,300,400,500,600,700,800,900], "tickSize": -4, "labels": false, "title": null}},
                  "y": {"field": "v", "type": "quantitative", "scale": {"type": "log", "domain": [0.000001, 10000], "nice": false}, "axis": null}}},
    {"data": {"name": "annihilation"}, "mark": {"type": "rule", "color": "black", "strokeDash": [18, 8], "strokeWidth": 1.8},
     "encoding": {"x": {"field": "e", "type": "quantitative", "scale": {"type": "log", "domain": [1, 1000], "nice": false}, "axis": null}}}
  ]
}
],
"spacing": 65,
"bounds": "flush"
}
]
}
